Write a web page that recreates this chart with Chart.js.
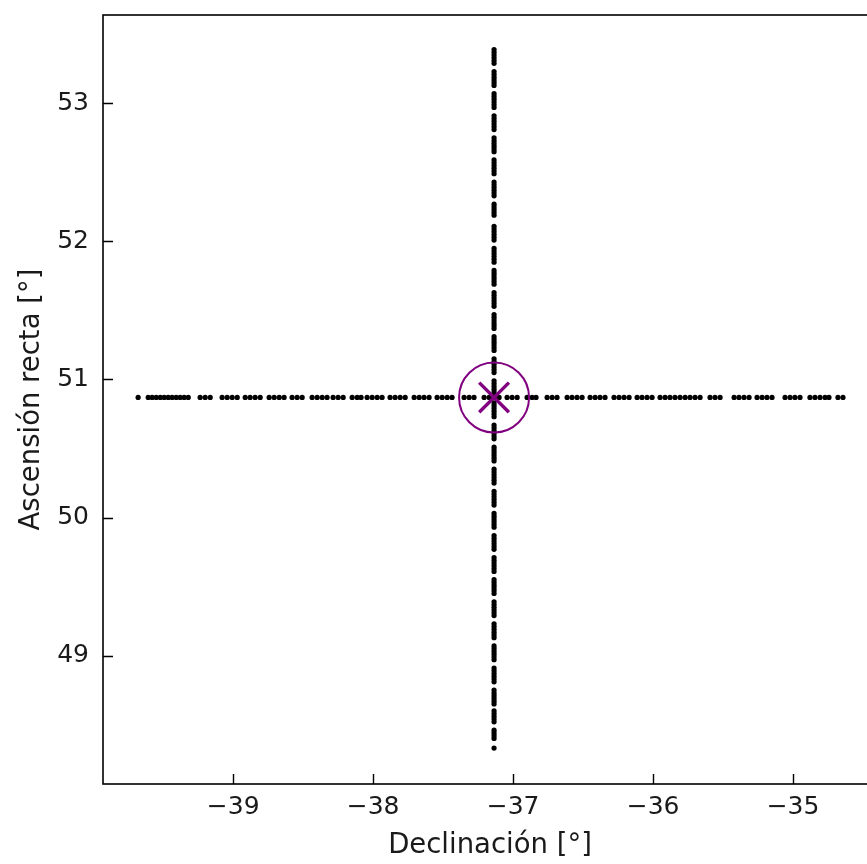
<!DOCTYPE html>
<html>
<head>
<meta charset="utf-8">
<script src="https://cdn.jsdelivr.net/npm/chart.js@4"></script>
<style>
  html, body { margin: 0; padding: 0; background: #fff; overflow: hidden; }
  #wrap { width: 900px; height: 864px; }
</style>
</head>
<body>
<div id="wrap"><canvas id="myChart" width="900" height="864"></canvas></div>
<script>
// barrido en declinacion (fila horizontal), AR fija
const scanDec = [
  -39.679,
  -39.607, -39.579, -39.550, -39.521,
  -39.493, -39.464, -39.436, -39.407, -39.379, -39.350, -39.321,
  -39.236, -39.200, -39.164,
  -39.079, -39.043, -39.007, -38.971,
  -38.914, -38.879, -38.843, -38.807,
  -38.743, -38.707, -38.671, -38.636,
  -38.579, -38.543, -38.507,
  -38.436, -38.400, -38.364, -38.329,
  -38.286, -38.250, -38.214,
  -38.150, -38.114, -38.086,
  -38.043, -38.007, -37.971, -37.936,
  -37.879, -37.843, -37.807, -37.771,
  -37.707, -37.671, -37.636, -37.600,
  -37.543, -37.507, -37.471, -37.436,
  -37.350, -37.314, -37.279,
  -37.207, -37.171, -37.136, -37.100,
  -37.043, -37.007, -36.971,
  -36.900, -36.864, -36.836,
  -36.757, -36.721, -36.686,
  -36.614, -36.579, -36.543, -36.507,
  -36.450, -36.414, -36.379, -36.343,
  -36.279, -36.243, -36.207, -36.171,
  -36.114, -36.079, -36.043, -36.007,
  -35.950, -35.914, -35.879, -35.843, -35.807,
  -35.771, -35.736, -35.700, -35.664,
  -35.593, -35.557, -35.521,
  -35.421, -35.386, -35.350, -35.314,
  -35.257, -35.221, -35.186, -35.150,
  -35.057, -35.021, -34.986, -34.950,
  -34.879, -34.843, -34.807, -34.771, -34.743,
  -34.679, -34.643
]
const scanDecRA = 50.87

// barrido en ascension recta (columna vertical), Dec fija
const scanRA = [
  53.39, 53.37, 53.35, 53.33, 53.31, 53.29,
  53.23, 53.21, 53.19, 53.17, 53.15, 53.13,
  53.07, 53.05, 53.03, 53.01, 52.99, 52.97,
  52.91, 52.89, 52.87, 52.85, 52.83, 52.81,
  52.75, 52.73, 52.71, 52.69, 52.67, 52.65,
  52.59, 52.57, 52.55, 52.53, 52.51, 52.49,
  52.43, 52.41, 52.39, 52.37, 52.35, 52.33,
  52.27, 52.25, 52.23, 52.21, 52.19,
  52.11, 52.09, 52.07, 52.05, 52.03, 52.01,
  51.95, 51.93, 51.91, 51.89, 51.87, 51.85,
  51.79, 51.77, 51.75, 51.73, 51.71, 51.69,
  51.63, 51.61, 51.59, 51.57, 51.55, 51.53,
  51.47, 51.45, 51.43, 51.41, 51.39, 51.37,
  51.31, 51.29, 51.27, 51.25, 51.23, 51.21,
  51.15, 51.13, 51.11, 51.09, 51.07, 51.05,
  50.99, 50.97, 50.95, 50.93, 50.91, 50.89,
  50.83, 50.81, 50.79, 50.77, 50.75, 50.73,
  50.67, 50.65, 50.63, 50.61, 50.59, 50.57,
  50.51, 50.49, 50.47, 50.45, 50.43, 50.41,
  50.35, 50.33, 50.31, 50.29, 50.27, 50.25,
  50.19, 50.17, 50.15, 50.13, 50.11, 50.09,
  50.03, 50.01, 49.99, 49.97, 49.95, 49.93,
  49.87, 49.85, 49.83, 49.81, 49.79, 49.77,
  49.71, 49.69, 49.67, 49.65, 49.63, 49.61,
  49.55, 49.53, 49.51, 49.49, 49.47, 49.45,
  49.39, 49.37, 49.35, 49.33, 49.31, 49.29,
  49.23, 49.21, 49.19, 49.17, 49.15, 49.13,
  49.07, 49.05, 49.03, 49.01, 48.99, 48.97,
  48.91, 48.89, 48.87, 48.85, 48.83, 48.81,
  48.75, 48.73, 48.71, 48.69, 48.67, 48.65,
  48.60, 48.58, 48.56, 48.54, 48.52,
  48.46, 48.44, 48.42, 48.40,
  48.33
]
const scanRADec = -37.136

// posicion de la fuente
const fuenteDec = -37.136
const fuenteRA = 50.87

const xTicks = [-39, -38, -37, -36, -35]
const yTicks = [49, 50, 51, 52, 53]
const xLimits = [-39.93, -34.40]
const yLimits = [48.07, 53.64]

const fontFamily = "'DejaVu Sans', sans-serif"
const purple = '#800080'

// marco completo y ticks hacia adentro, como matplotlib
const frameTicks = {
    id: 'frameTicks',
    afterDraw(c) {
        const ctx = c.ctx
        const a = c.chartArea
        const xs = c.scales.x
        const ys = c.scales.y
        ctx.save()
        ctx.strokeStyle = '#000'
        ctx.lineWidth = 1.6
        ctx.strokeRect(a.left, a.top, a.right - a.left, a.bottom - a.top)
        ctx.lineWidth = 1.4
        ctx.beginPath()
        xTicks.forEach(v => {
            const px = Math.round(xs.getPixelForValue(v)) + 0.5
            ctx.moveTo(px, a.bottom)
            ctx.lineTo(px, a.bottom - 10)
        })
        yTicks.forEach(v => {
            const py = Math.round(ys.getPixelForValue(v)) + 0.5
            ctx.moveTo(a.left, py)
            ctx.lineTo(a.left + 10, py)
        })
        ctx.stroke()
        ctx.restore()
    }
}

const chart = document.getElementById('myChart')

new Chart(chart, {
    type: 'scatter',
    data: {
        datasets: [
            {
                data: [{ x: fuenteDec, y: fuenteRA }],
                pointStyle: 'crossRot',
                pointRadius: 21,
                borderColor: purple,
                backgroundColor: purple,
                borderWidth: 3.4,
                order: 0
            },
            {
                data: [{ x: fuenteDec, y: fuenteRA }],
                pointStyle: 'circle',
                pointRadius: 35,
                borderColor: purple,
                backgroundColor: 'rgba(0,0,0,0)',
                borderWidth: 2,
                order: 1
            },
            {
                data: scanDec.map(v => ({ x: v, y: scanDecRA })),
                pointRadius: 2.6,
                borderWidth: 0,
                backgroundColor: '#000',
                order: 2
            },
            {
                data: scanRA.map(v => ({ x: scanRADec, y: v })),
                pointRadius: 2.6,
                borderWidth: 0,
                backgroundColor: '#000',
                order: 2
            }
        ]
    },
    options: {
        responsive: false,
        animation: false,
        events: [],
        layout: {
            autoPadding: false,
            padding: { left: 0, top: 15, right: 23, bottom: 0 }
        },
        plugins: {
            legend: { display: false },
            tooltip: { enabled: false }
        },
        scales: {
            x: {
                type: 'linear',
                min: xLimits[0],
                max: xLimits[1],
                afterBuildTicks: s => { s.ticks = xTicks.map(v => ({ value: v })) },
                afterFit: s => { s.height = 80; s.paddingLeft = 0; s.paddingRight = 0 },
                grid: { display: false, drawTicks: false },
                border: { display: false },
                ticks: {
                    padding: 8,
                    color: '#1a1a1a',
                    font: { family: fontFamily, size: 25 },
                    callback: v => String(v).replace('-', '\u2212')
                },
                title: {
                    display: true,
                    text: 'Declinación [°]',
                    color: '#1a1a1a',
                    font: { family: fontFamily, size: 27.5 },
                    padding: { top: 0, bottom: 2 }
                }
            },
            y: {
                type: 'linear',
                min: yLimits[0],
                max: yLimits[1],
                afterBuildTicks: s => { s.ticks = yTicks.map(v => ({ value: v })) },
                afterFit: s => { s.width = 103; s.paddingTop = 0; s.paddingBottom = 0 },
                grid: { display: false, drawTicks: false },
                border: { display: false },
                ticks: {
                    padding: 14,
                    color: '#1a1a1a',
                    font: { family: fontFamily, size: 25 },
                    callback: v => String(v)
                },
                title: {
                    display: true,
                    text: 'Ascensión recta [°]',
                    color: '#1a1a1a',
                    font: { family: fontFamily, size: 27.5 },
                    padding: { top: 15, bottom: 0 }
                }
            }
        }
    },
    plugins: [frameTicks]
})
</script>
</body>
</html>
